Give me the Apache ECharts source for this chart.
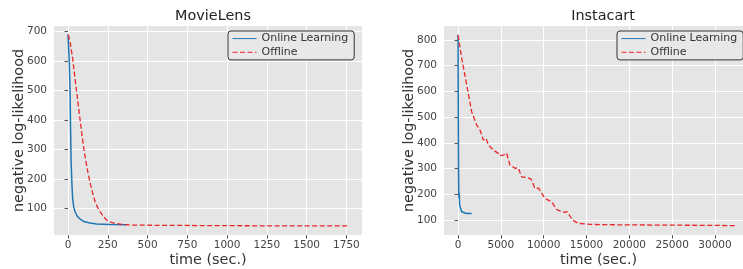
<!DOCTYPE html>
<html lang="en">
<head>
    <meta charset="UTF-8">
    <title>MovieLens / Instacart</title>
    <script src="https://cdn.jsdelivr.net/npm/echarts@6/dist/echarts.min.js"></script>
</head>
<style>
    *{
        margin: 0px;
    }
    #main{
        width: 743px;
        height: 269px;
        background: #fff;
    }
</style>
<body>
<div id="main"></div>
<script type="text/javascript">
    // 数据: [time (sec.), negative log-likelihood]
    var movieOnline = [[0,691],[8,600],[13,496],[16,380],[19,270],[24,190],[29,134],[36,105],[44,89],[58,73],[75,64],[100,55],[138,50],[180,47],[264,45],[370,44]];
    var movieOffline = [[2,690],[15,660],[29,610],[42,550],[54,496],[67,440],[80,383],[95,320],[109,270],[126,220],[142,179],[156,150],[170,123],[185,104],[201,89],[222,73],[243,60],[268,53],[295,49],[350,45],[400,43],[600,42],[1000,41],[1400,40],[1760,40]];
    var instaOnline = [[0,820],[20,600],[40,420],[60,290],[80,215],[110,185],[150,205],[180,160],[250,150],[310,145],[430,132],[620,126],[1000,125],[1590,125]];
    var instaOffline = [[0,819],[430,729],[1010,625],[1590,521],[2180,469],[2560,450],[2950,411],[3260,418],[3540,392],[4120,372],[4700,359],[4900,350],[5300,352],[5480,359],[5670,360],[6060,314],[6650,301],[7030,303],[7420,268],[8200,264],[8520,259],[8980,223],[9400,224],[9560,221],[10140,184],[10920,171],[11110,172],[11580,139],[12470,130],[12730,133],[13370,100],[14030,87],[15390,83],[16750,82],[20000,81],[25000,80],[30000,79],[32600,78]];
    var movieXTicks = [0,250,500,750,1000,1250,1500,1750];
    var movieYTicks = [100,200,300,400,500,600,700];
    var instaXTicks = [0,5000,10000,15000,20000,25000,30000];
    var instaYTicks = [100,200,300,400,500,600,700,800];

    var font = 'DejaVu Sans';
    var blue = '#1f77b4';
    var red = '#e8262b';

    function plain(v) { return String(v); }

    function xAxisOf(idx, min, max, ticks) {
        return {
            type: 'value', gridIndex: idx, min: min, max: max,
            name: 'time (sec.)', nameLocation: 'middle', nameGap: 18, nameMoveOverlap: false,
            nameTextStyle: {fontFamily: font, fontSize: 14.4, color: '#333'},
            axisLine: {show: false},
            axisTick: {show: true, length: 3.5, customValues: ticks, lineStyle: {color: '#555'}},
            axisLabel: {customValues: ticks, margin: 5, formatter: plain, fontFamily: font, fontSize: 10.5, color: '#444'},
            splitLine: {show: true, lineStyle: {color: '#fff', width: 1}}
        };
    }
    function yAxisOf(idx, min, max, ticks) {
        return {
            type: 'value', gridIndex: idx, min: min, max: max,
            name: 'negative log-likelihood', nameLocation: 'middle', nameGap: 28, nameMoveOverlap: false,
            nameTextStyle: {fontFamily: font, fontSize: 14.4, color: '#333'},
            axisLine: {show: false},
            axisTick: {show: true, length: 3.5, customValues: ticks, lineStyle: {color: '#555'}},
            axisLabel: {customValues: ticks, margin: 7, formatter: plain, fontFamily: font, fontSize: 10.5, color: '#444'},
            splitLine: {show: true, lineStyle: {color: '#fff', width: 1}}
        };
    }
    function legendOf(left) {
        return {
            left: left, top: 31, orient: 'vertical',
            data: ['Online Learning', 'Offline'],
            itemWidth: 24, itemHeight: 14, itemGap: 2.5,
            padding: [2, 6, 2, 4],
            backgroundColor: '#e8e8e8', borderColor: '#333', borderWidth: 1, borderRadius: 3,
            textStyle: {fontFamily: font, fontSize: 11, color: '#333'},
            itemStyle: {opacity: 0},
            lineStyle: {width: 1}
        };
    }

    var myChart = echarts.init(document.getElementById('main'));
    var option = {
        animation: false,
        title: [
            {text: 'MovieLens', left: 208, top: 4, textAlign: 'center', textStyle: {fontFamily: font, fontSize: 14.4, fontWeight: 'normal', color: '#222'}},
            {text: 'Instacart', left: 598, top: 4, textAlign: 'center', textStyle: {fontFamily: font, fontSize: 14.4, fontWeight: 'normal', color: '#222'}}
        ],
        legend: [legendOf(228), legendOf(617)],
        grid: [
            {left: 54, top: 26, width: 308, height: 209, outerBoundsMode: 'none', containLabel: false, show: true, backgroundColor: '#e5e5e5', borderWidth: 0},
            {left: 444, top: 26, width: 309, height: 209, outerBoundsMode: 'none', containLabel: false, show: true, backgroundColor: '#e5e5e5', borderWidth: 0}
        ],
        xAxis: [xAxisOf(0, -88, 1848, movieXTicks), xAxisOf(1, -1640, 34440, instaXTicks)],
        yAxis: [yAxisOf(0, 9.3, 719.4, movieYTicks), yAxisOf(1, 41.7, 854.4, instaYTicks)],
        series: [
            {name: 'Online Learning', type: 'line', xAxisIndex: 0, yAxisIndex: 0, data: movieOnline, showSymbol: false, symbol: 'none', color: blue, lineStyle: {width: 1.5, color: blue}},
            {name: 'Offline', type: 'line', xAxisIndex: 0, yAxisIndex: 0, data: movieOffline, showSymbol: false, symbol: 'none', color: red, lineStyle: {width: 1.3, color: red, type: [5, 2.5]}},
            {name: 'Online Learning', type: 'line', xAxisIndex: 1, yAxisIndex: 1, data: instaOnline, showSymbol: false, symbol: 'none', color: blue, lineStyle: {width: 1.5, color: blue}},
            {name: 'Offline', type: 'line', xAxisIndex: 1, yAxisIndex: 1, data: instaOffline, showSymbol: false, symbol: 'none', color: red, lineStyle: {width: 1.3, color: red, type: [5, 2.5]}}
        ]
    };
    myChart.setOption(option);
</script>
</body>
</html>
